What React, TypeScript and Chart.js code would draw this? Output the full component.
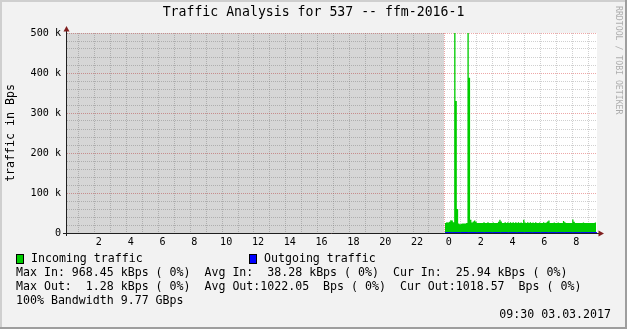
import { useEffect, useRef } from 'react';
import { Chart, registerables } from 'chart.js';

Chart.register(...registerables);

// ---- texts ----
const TITLE = 'Traffic Analysis for 537 -- ffm-2016-1';
const Y_TITLE = 'traffic in Bps';
const WATERMARK = 'RRDTOOL / TOBI OETIKER';
const SERIES_NAMES = ['Incoming traffic', 'Outgoing traffic'];
const STAT_LINES = [
  'Max In: 968.45 kBps ( 0%)  Avg In:  38.28 kBps ( 0%)  Cur In:  25.94 kBps ( 0%)',
  'Max Out:  1.28 kBps ( 0%)  Avg Out:1022.05  Bps ( 0%)  Cur Out:1018.57  Bps ( 0%)',
  '100% Bandwidth 9.77 GBps',
];
const TIMESTAMP = '09:30 03.03.2017';

// ---- axes (hours relative to 03.03.2017 00:00, values in kBps) ----
const X_RANGE = [-23.75, 9.56];
const Y_RANGE = [0, 500];
const Y_LABELED_TICKS = [0, 100, 200, 300, 400, 500];

// ---- data ----
const UNKNOWN_SPAN = [-23.75, -0.05]; // no data recorded
const IN_START_H = 0;
const IN_STEP_MIN = 5;
const incomingK = [
  25, 27, 26, 28, 32, 31, 27, 968.45, 330, 60,
  24, 22, 23, 24, 24, 24, 25, 620, 388, 33,
  26, 29, 31, 28, 25, 25, 25, 25, 25, 27,
  25, 25, 27, 25, 25, 25, 26, 25, 25, 25,
  28, 33, 29, 25, 25, 27, 25, 27, 25, 27,
  25, 27, 25, 27, 25, 27, 25, 26, 25, 33,
  26, 25, 27, 25, 27, 25, 26, 25, 27, 25,
  25, 26, 25, 25, 27, 25, 26, 29, 31, 25,
  25, 25, 26, 25, 25, 26, 25, 25, 25, 30,
  27, 25, 25, 25, 25, 25, 34, 28, 25, 25,
  25, 25, 25, 25, 26, 25, 25, 25, 25, 25,
  25, 25, 25, 25.94,
];
const OUT_START_H = 0;
const OUT_STEP_MIN = 30;
const outgoingK = [
  1.02, 1.05, 1.28, 1.1, 1.0, 1.01, 1.03, 1.0, 1.02, 1.01,
  1.0, 1.02, 1.03, 1.0, 1.01, 1.02, 1.0, 1.01, 1.02, 1.02,
];

// ---- styles ----
const MONO = "'DejaVu Sans Mono', monospace";
const BACK = '#f2f2f2';
const SHADE_A = '#cfcfcf';
const SHADE_B = '#9e9e9e';
const GRID = 'rgba(150,150,150,0.45)';
const MGRID = 'rgba(222,79,79,0.5)';
const AXIS = '#1f1f1f';
const ARROW = '#801f1f';
const IN_COLOR = '#00cc00';
const OUT_COLOR = '#0000ff';

function stepSeries(values: number[], startH: number, stepMin: number) {
  const pts = values.map((v, i) => ({ x: startH + (i * stepMin) / 60, y: v }));
  pts.push({ x: startH + (values.length * stepMin) / 60, y: values[values.length - 1] });
  return pts;
}

const rrdPlugin = {
  id: 'rrdDecor',
  beforeDraw(chart: any) {
    const { ctx, width, height, chartArea } = chart;
    ctx.save();
    ctx.fillStyle = BACK;
    ctx.fillRect(0, 0, width, height);
    ctx.fillStyle = SHADE_A;
    ctx.fillRect(0, 0, width, 2);
    ctx.fillRect(0, 0, 2, height);
    ctx.fillStyle = SHADE_B;
    ctx.fillRect(0, height - 2, width, 2);
    ctx.fillRect(width - 2, 0, 2, height);
    ctx.fillStyle = '#ffffff';
    ctx.fillRect(chartArea.left, chartArea.top, chartArea.right - chartArea.left, chartArea.bottom - chartArea.top);
    ctx.restore();
  },
  afterDraw(chart: any) {
    const { ctx, width, chartArea } = chart;
    const { left, right, top, bottom } = chartArea;
    ctx.save();
    // axes
    ctx.strokeStyle = AXIS;
    ctx.lineWidth = 1;
    ctx.beginPath();
    ctx.moveTo(left - 4, bottom + 0.5);
    ctx.lineTo(right + 3, bottom + 0.5);
    ctx.moveTo(left - 0.5, bottom + 3);
    ctx.lineTo(left - 0.5, top - 3);
    ctx.stroke();
    // arrows
    ctx.fillStyle = ARROW;
    ctx.beginPath();
    ctx.moveTo(left - 0.5, top - 7);
    ctx.lineTo(left - 3.5, top - 1.5);
    ctx.lineTo(left + 2.5, top - 1.5);
    ctx.closePath();
    ctx.fill();
    ctx.beginPath();
    ctx.moveTo(right + 7, bottom + 0.5);
    ctx.lineTo(right + 1.5, bottom - 2.5);
    ctx.lineTo(right + 1.5, bottom + 3.5);
    ctx.closePath();
    ctx.fill();

    ctx.fillStyle = '#000';
    ctx.textBaseline = 'middle';
    // title
    ctx.font = `13.2px ${MONO}`;
    ctx.textAlign = 'center';
    ctx.fillText(TITLE, width / 2, 13);
    // y title
    ctx.font = `11.6px ${MONO}`;
    ctx.save();
    ctx.translate(11, (top + bottom) / 2);
    ctx.rotate(-Math.PI / 2);
    ctx.fillText(Y_TITLE, 0, 0);
    ctx.restore();
    // watermark
    ctx.save();
    ctx.font = `8.2px ${MONO}`;
    ctx.fillStyle = 'rgba(0,0,0,0.3)';
    ctx.translate(618.5, 6);
    ctx.rotate(Math.PI / 2);
    ctx.textAlign = 'left';
    ctx.fillText(WATERMARK, 0, 0);
    ctx.restore();
    // legend
    ctx.textAlign = 'left';
    ctx.font = `11.6px ${MONO}`;
    const boxes = [
      { x: 16, color: IN_COLOR, tx: 31 },
      { x: 249, color: OUT_COLOR, tx: 264 },
    ];
    boxes.forEach((b, i) => {
      ctx.fillStyle = b.color;
      ctx.fillRect(b.x, 254, 8, 10);
      ctx.strokeStyle = '#000';
      ctx.strokeRect(b.x + 0.5, 254.5, 7, 9);
      ctx.fillStyle = '#000';
      ctx.fillText(SERIES_NAMES[i], b.tx, 259);
    });
    STAT_LINES.forEach((line, i) => {
      ctx.fillText(line, 16, 273 + i * 14);
    });
    ctx.textAlign = 'right';
    ctx.fillText(TIMESTAMP, 611, 315);
    ctx.restore();
  },
};

export default function App() {
  const ref = useRef<HTMLCanvasElement | null>(null);
  useEffect(() => {
    if (!ref.current) return;
    const tickFont = { family: MONO, size: 10.1 };
    const chart = new Chart(ref.current, {
      type: 'line',
      data: {
        datasets: [
          {
            label: 'unknown',
            data: [
              { x: UNKNOWN_SPAN[0], y: Y_RANGE[1] },
              { x: UNKNOWN_SPAN[1], y: Y_RANGE[1] },
            ],
            fill: 'origin',
            backgroundColor: 'rgba(0,0,0,0.16)',
            borderColor: 'rgba(0,0,0,0)',
            borderWidth: 0,
            pointRadius: 0,
            order: 3,
          },
          {
            label: SERIES_NAMES[0],
            data: stepSeries(incomingK, IN_START_H, IN_STEP_MIN),
            stepped: true,
            fill: 'origin',
            backgroundColor: IN_COLOR,
            borderColor: 'rgba(0,0,0,0)',
            borderWidth: 0,
            pointRadius: 0,
            order: 2,
          },
          {
            label: SERIES_NAMES[1],
            data: stepSeries(outgoingK, OUT_START_H, OUT_STEP_MIN),
            stepped: true,
            fill: false,
            borderColor: OUT_COLOR,
            borderWidth: 1,
            pointRadius: 0,
            order: 1,
          },
        ],
      },
      options: {
        animation: false,
        responsive: false,
        maintainAspectRatio: false,
        devicePixelRatio: 1,
        events: [],
        layout: { padding: { left: 10, right: 30, top: 33, bottom: 76 } },
        plugins: {
          legend: { display: false },
          title: { display: false },
          tooltip: { enabled: false },
        },
        scales: {
          x: {
            type: 'linear',
            min: X_RANGE[0],
            max: X_RANGE[1],
            afterFit: (s: any) => {
              s.height = 20;
            },
            ticks: {
              stepSize: 1,
              includeBounds: false,
              autoSkip: false,
              maxRotation: 0,
              minRotation: 0,
              labelOffset: 4,
              padding: 3,
              color: '#000',
              font: tickFont,
              callback: (v: any) => {
                const h = Math.round(Number(v));
                if (h % 2 !== 0) return '';
                return String(((h % 24) + 24) % 24);
              },
            },
            grid: {
              drawTicks: false,
              lineWidth: 1,
              color: (c: any) =>
                c.tick && Math.round(c.tick.value) % 24 === 0 ? MGRID : GRID,
            },
            border: { display: false, dash: [1, 1] },
          },
          y: {
            type: 'linear',
            min: Y_RANGE[0],
            max: Y_RANGE[1],
            afterFit: (s: any) => {
              s.width = 57;
            },
            ticks: {
              stepSize: 20,
              autoSkip: false,
              padding: 6,
              color: '#000',
              font: tickFont,
              callback: (v: any) => {
                const n = Math.round(Number(v));
                if (!Y_LABELED_TICKS.includes(n)) return '';
                return n === 0 ? '0' : `${n} k`;
              },
            },
            grid: {
              drawTicks: false,
              lineWidth: 1,
              color: (c: any) =>
                c.tick && Math.round(c.tick.value) % 100 === 0 ? MGRID : GRID,
            },
            border: { display: false, dash: [1, 1] },
          },
        },
      },
      plugins: [rrdPlugin],
    } as any);
    return () => chart.destroy();
  }, []);
  return (
    <div style={{ position: 'absolute', left: 0, top: 0, width: 627, height: 329 }}>
      <canvas ref={ref} width={627} height={329} style={{ display: 'block' }} />
    </div>
  );
}
